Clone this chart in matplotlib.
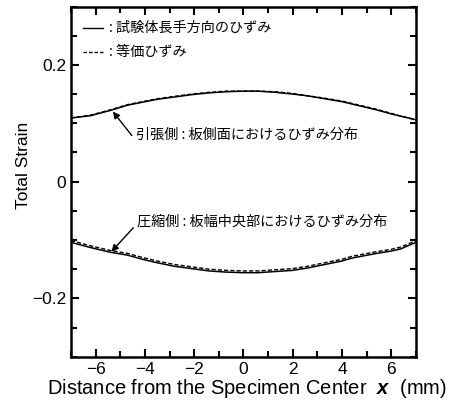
import numpy as np
import matplotlib.pyplot as plt
from matplotlib.ticker import MultipleLocator

#Fonts
plt.rcParams['font.family'] = ['Liberation Sans', 'Noto Sans CJK JP']
plt.rcParams['mathtext.fontset'] = 'custom'
plt.rcParams['mathtext.rm'] = 'Liberation Sans'
plt.rcParams['mathtext.bfit'] = 'Liberation Sans:italic:bold'
jp = ['Noto Sans CJK JP', 'Liberation Sans']

#Data
x_pts = [-7.0, -6.2, -5.4, -4.7, -4.1, -3.5, -2.8, -2.1, -1.4, -0.7, 0.0,
         0.6, 1.3, 2.0, 2.6, 3.3, 4.0, 4.4, 5.4, 6.0, 6.4, 7.0]
tension_long = [0.109, 0.113, 0.122, 0.131, 0.136, 0.141, 0.145, 0.149, 0.152, 0.154, 0.155,
                0.155, 0.153, 0.150, 0.147, 0.142, 0.137, 0.133, 0.123, 0.116, 0.112, 0.106]
tension_eq = [0.109, 0.114, 0.123, 0.132, 0.137, 0.142, 0.146, 0.150, 0.153, 0.155, 0.155,
              0.155, 0.154, 0.151, 0.147, 0.143, 0.138, 0.134, 0.124, 0.117, 0.112, 0.106]
comp_long = [-0.104, -0.113, -0.121, -0.126, -0.133, -0.139, -0.145, -0.149, -0.153, -0.155, -0.156,
             -0.156, -0.154, -0.152, -0.148, -0.142, -0.136, -0.131, -0.123, -0.119, -0.115, -0.104]
comp_eq = [-0.101, -0.110, -0.118, -0.123, -0.130, -0.136, -0.142, -0.146, -0.150, -0.152, -0.153,
           -0.153, -0.151, -0.149, -0.145, -0.139, -0.133, -0.128, -0.120, -0.116, -0.112, -0.101]

legend_labels = [': 試験体長手方向のひずみ', ': 等価ひずみ']
note_tension = '引張側 : 板側面におけるひずみ分布'
note_comp = '圧縮側 : 板幅中央部におけるひずみ分布'

#Figure
fig = plt.figure(figsize=(4.55, 4.07), dpi=100)
ax = fig.add_axes([0.156, 0.1235, 0.758, 0.8605])

#Curves
ax.plot(x_pts, tension_long, color='black', linewidth=1.1, linestyle='solid')
ax.plot(x_pts, tension_eq, color='black', linewidth=1.0, linestyle=(0, (3, 1.5)))
ax.plot(x_pts, comp_long, color='black', linewidth=1.1, linestyle='solid')
ax.plot(x_pts, comp_eq, color='black', linewidth=1.0, linestyle=(0, (3, 1.5)))

#Axes limits and ticks
ax.set_xlim(-7, 7)
ax.set_ylim(-0.3, 0.3)
ax.xaxis.set_minor_locator(MultipleLocator(1))
ax.yaxis.set_minor_locator(MultipleLocator(0.05))
ax.set_xticks([-6, -4, -2, 0, 2, 4, 6])
ax.set_yticks([-0.2, 0, 0.2])
ax.set_yticklabels(['\u22120.2', '0', '0.2'])
ax.set_xticklabels(['\u22126', '\u22124', '\u22122', '0', '2', '4', '6'])
ax.tick_params(which='both', direction='in', top=True, right=True, width=1.5, labelsize=12.5)
ax.tick_params(which='major', length=6)
ax.tick_params(which='minor', length=4)
for s in ax.spines.values():
    s.set_linewidth(1.8)

#Labels
ax.set_ylabel('Total Strain', fontsize=12.5)
ax.yaxis.set_label_coords(-0.117, 0.547)
ax.set_xlabel(r'Distance from the Specimen Center  $\mathbfit{x}$  (mm)', fontsize=14.5)
ax.xaxis.set_label_coords(0.51, -0.058)

#Legend drawn by hand
ax.plot([-6.5, -5.7], [0.263, 0.263], color='black', linewidth=1.0)
ax.plot([-6.5, -5.7], [0.222, 0.222], color='black', linewidth=1.0, linestyle=(0, (2.5, 1.5)))
ax.text(-5.45, 0.263, legend_labels[0], family=jp, fontsize=10.2, va='center')
ax.text(-5.45, 0.222, legend_labels[1], family=jp, fontsize=10.2, va='center')

#Notes with arrows
arrow = dict(arrowstyle='-|>', color='black', lw=1.0, shrinkA=0, shrinkB=0, mutation_scale=10)
ax.annotate('', xy=(-5.30, 0.120), xytext=(-4.53, 0.079), arrowprops=arrow)
ax.text(-4.38, 0.080, note_tension, family=jp, fontsize=10.2, va='center')
ax.annotate('', xy=(-5.36, -0.120), xytext=(-4.47, -0.079), arrowprops=arrow)
ax.text(-4.30, -0.068, note_comp, family=jp, fontsize=10.2, va='center')

fig.savefig('out.png', dpi=100)
